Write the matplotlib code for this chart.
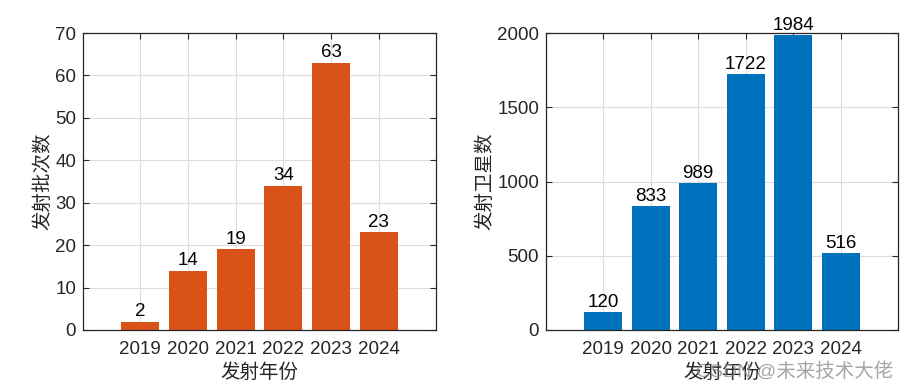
import matplotlib
matplotlib.use('Agg')
import matplotlib.pyplot as plt

plt.rcParams['font.family'] = ['Liberation Sans', 'Noto Sans CJK SC', 'DejaVu Sans']

# Data
years = [2019, 2020, 2021, 2022, 2023, 2024]
launch_batches = [2, 14, 19, 34, 63, 23]
satellites = [120, 833, 989, 1722, 1984, 516]

W, H = 909, 388
fig = plt.figure(figsize=(W / 100, H / 100), dpi=100)

dark = '#262626'


def style_axes(ax, ylim, yticks):
    ax.set_xlim(2017.8, 2025.2)
    ax.set_ylim(*ylim)
    ax.set_xticks(years)
    ax.set_xticklabels([str(y) for y in years])
    ax.set_yticks(yticks)
    ax.grid(True, color='#dcdcdc', linewidth=0.8)
    ax.set_axisbelow(True)
    ax.tick_params(direction='in', top=True, right=True, length=4,
                   width=0.8, colors=dark, labelsize=13.5)
    ax.tick_params(axis='x', pad=8)
    ax.tick_params(axis='y', pad=5)
    for sp in ax.spines.values():
        sp.set_color(dark)
        sp.set_linewidth(0.9)


def add_labels(ax, values):
    for x, v in zip(years, values):
        ax.annotate(str(v), (x, v), xytext=(0, 1), textcoords='offset points',
                    ha='center', va='bottom', fontsize=13.5, color='black',
                    annotation_clip=False)


# Left: launch batches
ax1 = fig.add_axes([83 / W, 58 / H, 353 / W, 297 / H])
ax1.bar(years, launch_batches, width=0.8, color='#D95319')
style_axes(ax1, (0, 70), range(0, 71, 10))
add_labels(ax1, launch_batches)
ax1.set_xlabel('发射年份', fontsize=14, color=dark, labelpad=4,
               fontweight='light')
ax1.set_ylabel('发射批次数', fontsize=14, color=dark, labelpad=2,
               fontweight='light')

# Right: satellites
ax2 = fig.add_axes([546 / W, 58 / H, 352 / W, 297 / H])
ax2.bar(years, satellites, width=0.8, color='#0072BD')
style_axes(ax2, (0, 2000), range(0, 2001, 500))
add_labels(ax2, satellites)
ax2.set_xlabel('发射年份', fontsize=14, color=dark, labelpad=4,
               fontweight='light')
ax2.set_ylabel('发射卫星数', fontsize=14, color=dark, labelpad=2,
               fontweight='light')

# watermark
fig.text(893 / W, 1 - 371 / H, 'CSDN @未来技术大佬', ha='right', va='center',
         fontsize=14, color='#888888', alpha=0.75, fontweight='light')

fig.savefig('out.png', dpi=100)
